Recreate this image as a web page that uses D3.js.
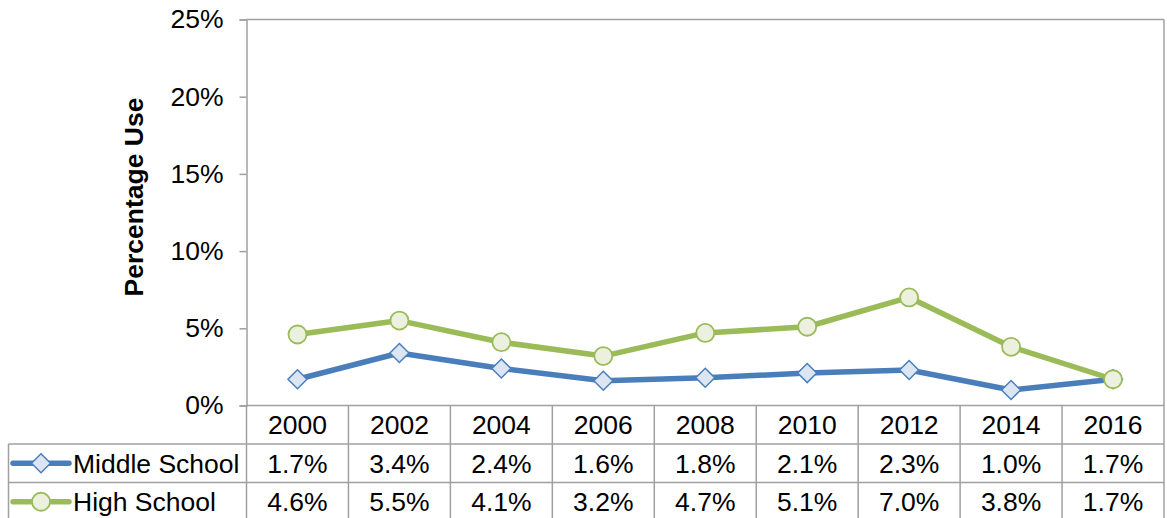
<!DOCTYPE html>
<html><head><meta charset="utf-8">
<script src="https://cdn.jsdelivr.net/npm/d3@7"></script>
<style>body{margin:0;background:#fff}svg{display:block}text{font-family:"Liberation Sans",Arial,sans-serif;fill:#000}</style>
</head><body><svg id="c" width="1167" height="518"></svg>
<script>
const years = ["2000","2002","2004","2006","2008","2010","2012","2014","2016"];
const middleSchool = [1.7,3.4,2.4,1.6,1.8,2.1,2.3,1.0,1.7];
const highSchool = [4.6,5.5,4.1,3.2,4.7,5.1,7.0,3.8,1.7];
const yTicks = [0,5,10,15,20,25];
const seriesNames = ["Middle School","High School"];

const FS = 26.5;
const svg = d3.select("#c");
const L = 246.5, R = 1164, T = 19.5, B = 405.5;
const rowH = 38.5;
const tableLeft = 8.5;
const grid = "#a0a0a0";
const x = d3.scaleBand().domain(years).range([L, R]);
const y = d3.scaleLinear().domain([0,25]).range([B, T]);

// y axis
const ya = svg.append("g").attr("transform",`translate(${L},0)`)
  .call(d3.axisLeft(y).tickValues(yTicks).tickSize(7).tickPadding(16).tickFormat(d=>d+"%"));
ya.select(".domain").attr("stroke",grid).attr("stroke-width",1.5);
ya.selectAll(".tick line").attr("stroke",grid).attr("stroke-width",1.5);
ya.selectAll(".tick text").attr("font-size",FS).attr("font-family","Liberation Sans, Arial, sans-serif").attr("fill","#000");

// plot border top/right
svg.append("line").attr("x1",L).attr("x2",R).attr("y1",T).attr("y2",T).attr("stroke",grid).attr("stroke-width",1.5);
svg.append("line").attr("x1",R).attr("x2",R).attr("y1",T).attr("y2",518).attr("stroke",grid).attr("stroke-width",1.5);
svg.append("line").attr("x1",L).attr("x2",R).attr("y1",B).attr("y2",B).attr("stroke",grid).attr("stroke-width",1.5);

// y title
svg.append("text").attr("transform",`translate(143,197) rotate(-90)`).attr("text-anchor","middle")
  .attr("font-size",FS).attr("font-weight","bold").text("Percentage Use");

// table
const tg = svg.append("g");
years.forEach((yr,i)=>{
  const x0 = x(yr);
  tg.append("line").attr("x1",x0).attr("x2",x0).attr("y1",B).attr("y2",518).attr("stroke",grid).attr("stroke-width",1.5);
});
[B+rowH, B+2*rowH].forEach(yy=>{
  tg.append("line").attr("x1",tableLeft).attr("x2",R).attr("y1",yy).attr("y2",yy).attr("stroke",grid).attr("stroke-width",1.5);
});
tg.append("line").attr("x1",tableLeft).attr("x2",tableLeft).attr("y1",B+rowH).attr("y2",518).attr("stroke",grid).attr("stroke-width",1.5);

const cx = d=>x(d)+x.bandwidth()/2;
years.forEach((yr,i)=>{
  tg.append("text").attr("x",cx(yr)).attr("y",B+rowH/2).attr("dy","0.36em").attr("text-anchor","middle").attr("font-size",FS).text(yr);
  tg.append("text").attr("x",cx(yr)).attr("y",B+rowH*1.5).attr("dy","0.36em").attr("text-anchor","middle").attr("font-size",FS).text(middleSchool[i].toFixed(1)+"%");
  tg.append("text").attr("x",cx(yr)).attr("y",B+rowH*2.5).attr("dy","0.36em").attr("text-anchor","middle").attr("font-size",FS).text(highSchool[i].toFixed(1)+"%");
});

const styles = [
  {data: middleSchool, stroke:"#4a7ebb", fill:"#dce6f2", shape:"diamond"},
  {data: highSchool, stroke:"#9bbb59", fill:"#ebf1de", shape:"circle"}
];
function marker(g, shape, st, px, py){
  if(shape==="diamond"){
    const r=9.5;
    g.append("path").attr("d",`M${px},${py-r}L${px+r},${py}L${px},${py+r}L${px-r},${py}Z`)
      .attr("fill",st.fill).attr("stroke",st.stroke).attr("stroke-width",1.5);
  } else {
    g.append("circle").attr("cx",px).attr("cy",py).attr("r",9).attr("fill",st.fill).attr("stroke",st.stroke).attr("stroke-width",1.8);
  }
}
const lineGen = d3.line().x((d,i)=>cx(years[i])).y(d=>y(d));
styles.forEach(st=>{
  svg.append("path").datum(st.data).attr("d",lineGen).attr("fill","none").attr("stroke",st.stroke).attr("stroke-width",5.5).attr("stroke-linejoin","round");
});
styles.forEach(st=>{
  const g = svg.append("g");
  st.data.forEach((v,i)=>marker(g, st.shape, st, cx(years[i]), y(v)));
});

// legend keys in table
styles.forEach((st,k)=>{
  const yy = B+rowH*(1.5+k);
  svg.append("line").attr("x1",13).attr("x2",69).attr("y1",yy).attr("y2",yy).attr("stroke",st.stroke).attr("stroke-width",5.5).attr("stroke-linecap","round");
  marker(svg, st.shape, st, 41, yy);
  svg.append("text").attr("x",73).attr("y",yy).attr("dy","0.36em").attr("font-size",FS).text(seriesNames[k]);
});
</script></body></html>
